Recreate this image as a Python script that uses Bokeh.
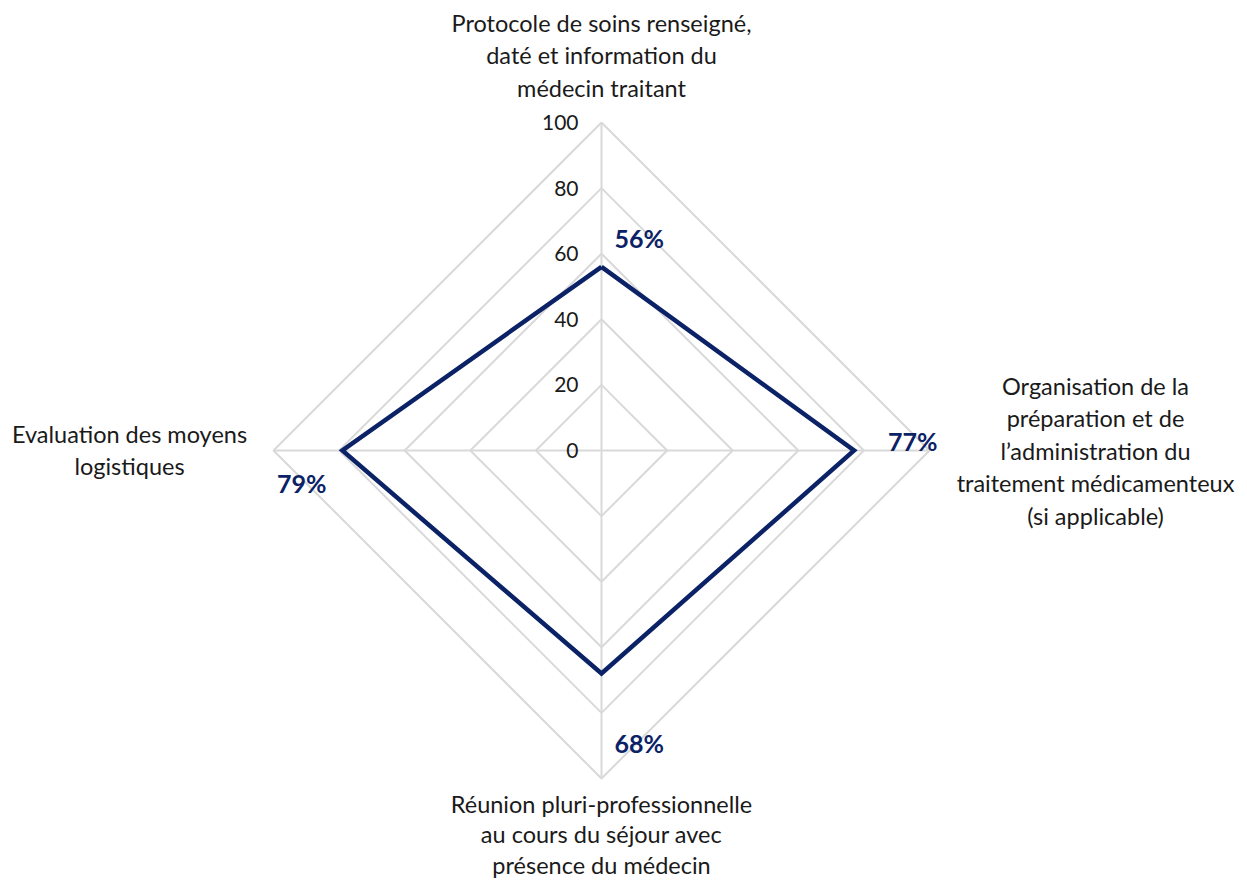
import numpy as np
from bokeh.plotting import figure
from bokeh.models import Range1d
from bokeh.core.properties import value
from bokeh.embed import file_html
from bokeh.resources import INLINE

# ---- data ----
categories = [
    "Protocole de soins renseigné,\ndaté et information du\nmédecin traitant",
    "Organisation de la\npréparation et de\nl\u2019administration du\ntraitement médicamenteux\n(si applicable)",
    "Réunion pluri-professionnelle\nau cours du séjour avec\nprésence du médecin",
    "Evaluation des moyens\nlogistiques",
]
values = [56, 77, 68, 79]
value_labels = ["56%", "77%", "68%", "79%"]
ticks = [0, 20, 40, 60, 80, 100]

# ---- layout ----
W, H = 1239, 880
CX, CY, S = 601, 450, 3.28   # centre in picture px, px per unit
NAVY = "#0B2266"
GRID = "#D9D9D9"
FONT = "Lato"

def d(px, py):
    return (px - CX) / S, (CY - py) / S

x0, y0 = d(0, 0)
x1, y1 = d(W, H)
p = figure(width=W, height=H, output_backend="svg", toolbar_location=None,
           x_range=Range1d(x0, x1), y_range=Range1d(y1, y0), min_border=0)
p.axis.visible = False
p.grid.visible = False
p.outline_line_color = None

angles = np.pi / 2 - np.arange(len(categories)) * 2 * np.pi / len(categories)
ux, uy = np.cos(angles), np.sin(angles)

# grid rings
for t in ticks[1:]:
    xs = list(t * ux) + [t * ux[0]]
    ys = list(t * uy) + [t * uy[0]]
    p.line(xs, ys, line_color=GRID, line_width=2)
# spokes
for i in range(len(categories)):
    p.line([0, 100 * ux[i]], [0, 100 * uy[i]], line_color=GRID, line_width=2)

# tick labels
p.text(x=[d(578, 0)[0]] * len(ticks), y=ticks, text=[str(t) for t in ticks],
       text_align="right", text_baseline="middle", text_color="#1a1a1a",
       text_font=value(FONT), text_font_size="21px")

# series
vx = np.array(values) * ux
vy = np.array(values) * uy
p.line(list(vx) + [vx[0]], list(vy) + [vy[0]], line_color=NAVY, line_width=4.5,
       line_join="miter")

# value labels (pixel offsets)
offs = [(13, -29, "left"), (34, -10, "left"), (13, 69, "left"), (-16, 32, "right")]
for i in range(len(values)):
    ox, oy, al = offs[i]
    p.text(x=[vx[i]], y=[vy[i]], text=[value_labels[i]], x_offset=ox, y_offset=oy,
           text_align=al, text_baseline="middle", text_color=NAVY,
           text_font=value(FONT), text_font_size="25px", text_font_style="bold")

# category labels: centre x, first line centre y (picture px), line height
cat_pos = [(601, 22, 32.5), (1095, 385, 32.5), (601, 803, 30.5), (129, 433, 32.5)]
for i, cat in enumerate(categories):
    lines = cat.split("\n")
    cx, cy, lh = cat_pos[i]
    xs, ys = [], []
    for j, ln in enumerate(lines):
        dx, dy = d(cx, cy + j * lh)
        xs.append(dx)
        ys.append(dy)
    p.text(x=xs, y=ys, text=lines, text_align="center", text_baseline="middle",
           text_color="#1a1a1a", text_font=value(FONT), text_font_size="23.5px")

open("out.html", "w").write(file_html(p, INLINE))
